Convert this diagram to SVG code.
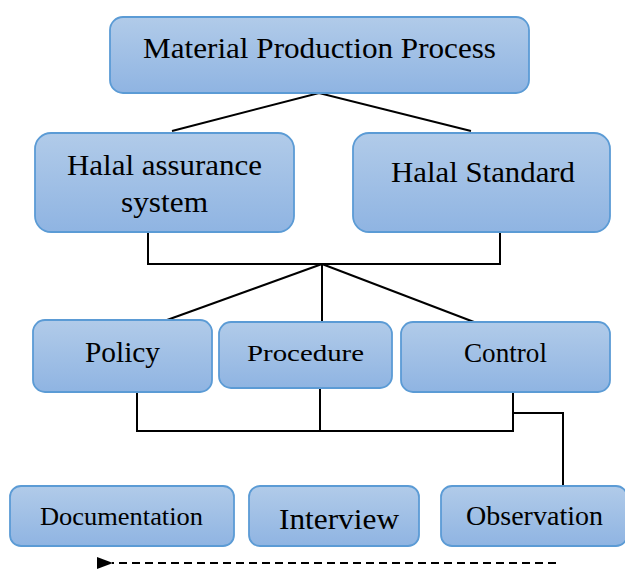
<svg xmlns="http://www.w3.org/2000/svg" width="625" height="569" viewBox="0 0 625 569">
<defs>
<linearGradient id="g" x1="0" y1="0" x2="0" y2="1">
<stop offset="0" stop-color="#b1cbe9"/>
<stop offset="1" stop-color="#8fb4e2"/>
</linearGradient>
<marker id="ah" markerWidth="16" markerHeight="12" refX="1" refY="6" orient="auto" markerUnits="userSpaceOnUse">
<path d="M16,0 L0,6 L16,12 Z" fill="#000"/>
</marker>
<style>
.box{fill:url(#g);stroke:#5b9bd5;stroke-width:1.8}
.t{font-family:"Liberation Serif","DejaVu Serif",serif;fill:#000;text-anchor:middle}
.c{fill:none;stroke:#000;stroke-width:2}
</style>
</defs>
<rect width="625" height="569" fill="#fff"/>
<g id="connectors">
<polyline class="c" points="172,131 319,93 471,131"/>
<polyline class="c" points="148,233 148,264 500,264 500,233"/>
<line class="c" x1="322" y1="264" x2="167" y2="320"/>
<line class="c" x1="322" y1="264" x2="322" y2="322"/>
<line class="c" x1="322" y1="264" x2="474" y2="322"/>
<polyline class="c" points="137,393 137,431 513,431 513,393"/>
<line class="c" x1="320" y1="389" x2="320" y2="431"/>
<polyline class="c" points="513,413 563,413 563,486"/>
<line x1="556" y1="563" x2="112" y2="563" stroke="#000" stroke-width="2" stroke-dasharray="8,5" marker-end="url(#ah)"/>
</g>
<g id="n-material">
<rect class="box" x="110" y="17" width="419" height="76" rx="13"/>
<text class="t" x="319.5" y="58" font-size="28.5" textLength="353" lengthAdjust="spacingAndGlyphs">Material Production Process</text>
</g>
<g id="n-has">
<rect class="box" x="35" y="133" width="259" height="99" rx="16"/>
<text class="t" x="164.5" y="175" font-size="28.5" textLength="195" lengthAdjust="spacingAndGlyphs">Halal assurance</text>
<text class="t" x="164.5" y="212" font-size="28.5" textLength="87" lengthAdjust="spacingAndGlyphs">system</text>
</g>
<g id="n-standard">
<rect class="box" x="353" y="133" width="257" height="99" rx="16"/>
<text class="t" x="483" y="182" font-size="29.5" textLength="184" lengthAdjust="spacingAndGlyphs">Halal Standard</text>
</g>
<g id="n-policy">
<rect class="box" x="33" y="320" width="179" height="72" rx="12"/>
<text class="t" x="122.5" y="362" font-size="30" textLength="75" lengthAdjust="spacingAndGlyphs">Policy</text>
</g>
<g id="n-procedure">
<rect class="box" x="219" y="322" width="173" height="66" rx="12"/>
<text class="t" x="305.5" y="361" font-size="23" textLength="117" lengthAdjust="spacingAndGlyphs">Procedure</text>
</g>
<g id="n-control">
<rect class="box" x="401" y="322" width="209" height="70" rx="12"/>
<text class="t" x="505.5" y="362" font-size="27" textLength="83" lengthAdjust="spacingAndGlyphs">Control</text>
</g>
<g id="n-documentation">
<rect class="box" x="10" y="486" width="224" height="60" rx="11"/>
<text class="t" x="121.5" y="525" font-size="26" textLength="163" lengthAdjust="spacingAndGlyphs">Documentation</text>
</g>
<g id="n-interview">
<rect class="box" x="249" y="486" width="170" height="60" rx="11"/>
<text class="t" x="339" y="529" font-size="30" textLength="120" lengthAdjust="spacingAndGlyphs">Interview</text>
</g>
<g id="n-observation">
<rect class="box" x="441" y="486" width="186" height="60" rx="11"/>
<text class="t" x="534.5" y="525" font-size="27" textLength="137" lengthAdjust="spacingAndGlyphs">Observation</text>
</g>
</svg>
